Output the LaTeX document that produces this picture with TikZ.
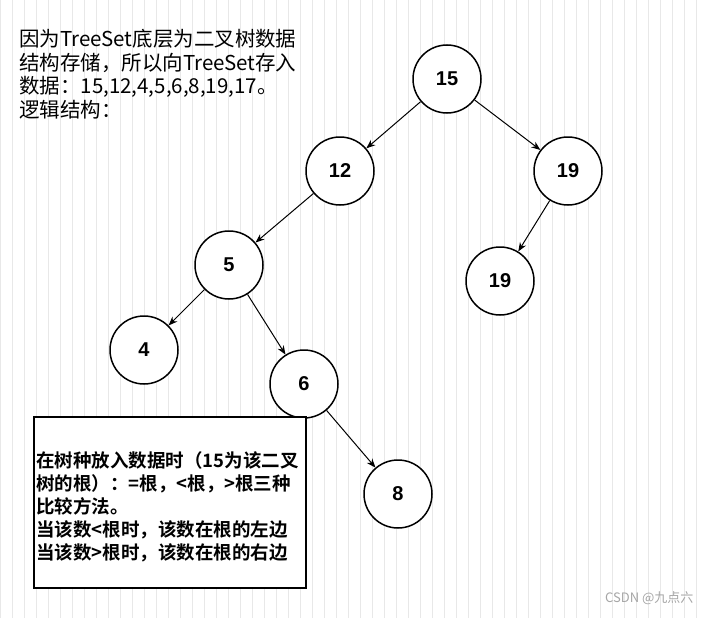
\documentclass[tikz,border=0pt]{standalone}
\usepackage{fontspec}
\setmainfont{Liberation Sans}
\newfontfamily\cjk{Noto Sans CJK SC}
\newfontfamily\cjkb{Noto Sans CJK SC Bold}
\usetikzlibrary{arrows.meta}
\begin{document}
\begin{tikzpicture}[x=1pt,y=-1pt,
  nd/.style={circle,draw,line width=1.5pt,minimum size=68pt,inner sep=0pt,fill=white,font=\fontsize{20}{20}\selectfont\bfseries},
  ar/.style={-{Stealth[length=9pt,width=7pt]},line width=1pt}]
\fill[white] (0,0) rectangle (701,618);
\useasboundingbox (0,0) rectangle (701,618);
\draw[gray!18,line width=0.5pt,step=12] (0,0) grid (701,618);
\node[anchor=north west,align=left,inner sep=0pt,font=\cjk\fontsize{20.5}{23.7}\selectfont] (t) at (19,29)
 {因为TreeSet底层为二叉树数据\\结构存储，所以向TreeSet存入\\数据：15,12,4,5,6,8,19,17。\\逻辑结构：};
\node[nd] (a) at (447,79) {15};
\node[nd] (b) at (340,171) {12};
\node[nd] (c) at (568,171) {19};
\node[nd] (d) at (229,265) {5};
\node[nd] (e) at (500,281) {19};
\node[nd] (f) at (144,350) {4};
\node[nd] (g) at (304,384) {6};
\node[nd] (h) at (398,494) {8};
\draw[ar] (a) -- (b);
\draw[ar] (a) -- (c);
\draw[ar] (b) -- (d);
\draw[ar] (c) -- (e);
\draw[ar] (d) -- (f);
\draw[ar] (d) -- (g);
\draw[ar] (g) -- (h);
\node[draw,line width=1.6pt,fill=white,minimum width=272pt,minimum height=171pt,anchor=north west,inner sep=0pt] (box) at (33,416) {};
\node[anchor=north west,align=left,inner sep=0pt,font=\cjkb\fontsize{18.5}{23.2}\selectfont] (bt) at (36,451)
 {在树种放入数据时（15为该二叉\\树的根）：=根，<根，>根三种\\比较方法。\\当该数<根时，该数在根的左边\\当该数>根时，该数在根的右边};
\node[anchor=east,text=gray!70,font=\cjk\fontsize{13}{13}\selectfont] (wm) at (697,598) {CSDN @九点六};
\end{tikzpicture}
\end{document}
